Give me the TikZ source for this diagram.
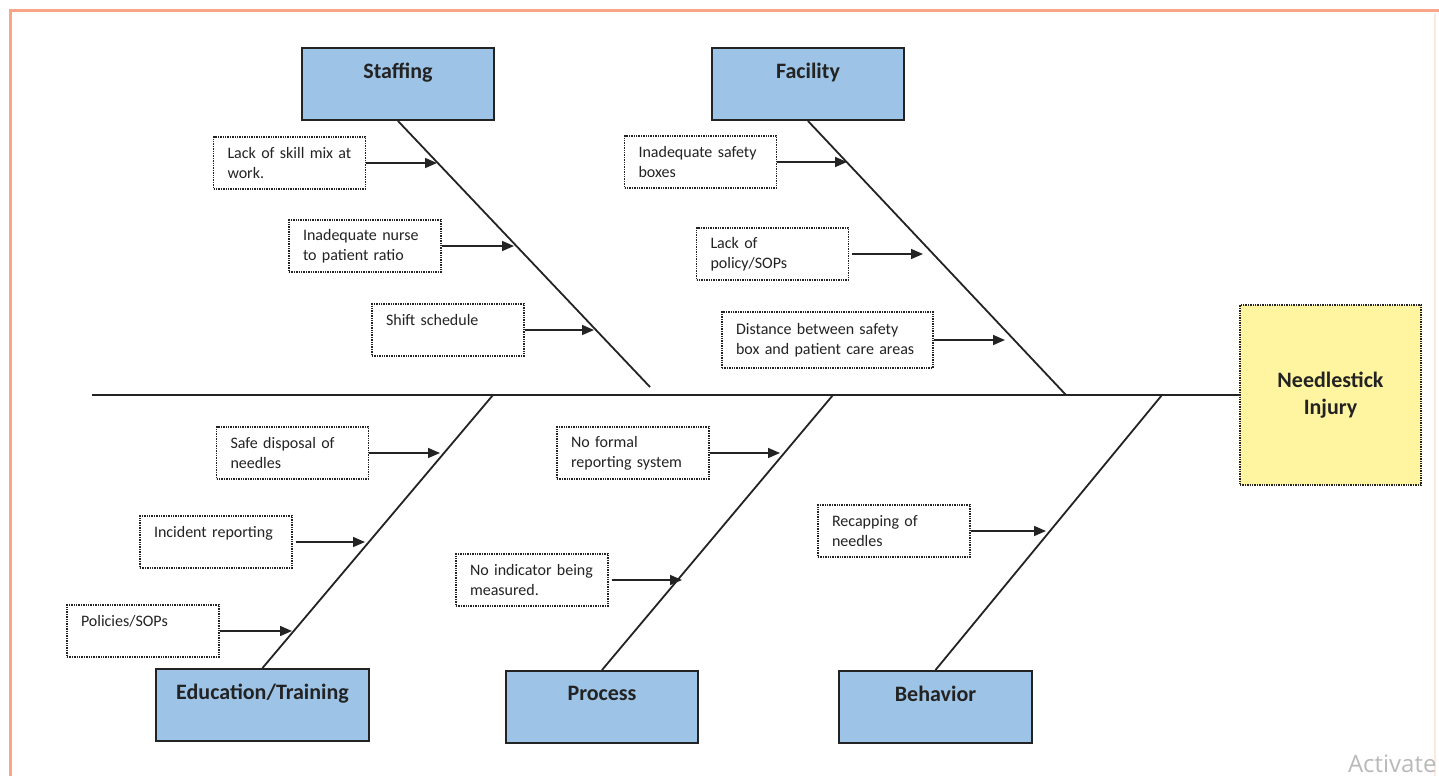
\documentclass[tikz,border=0pt]{standalone}
\usepackage{fontspec}
\setmainfont{Carlito}
\newfontfamily\wmfont{Open Sans}
\usetikzlibrary{arrows.meta}

\definecolor{catblue}{RGB}{157,195,230}
\definecolor{effyellow}{RGB}{255,245,160}
\definecolor{framered}{RGB}{250,165,135}
\definecolor{inkgray}{RGB}{35,35,35}

\begin{document}
\begin{tikzpicture}[x=1pt,y=-1pt,
    category/.style={draw=inkgray, line width=2pt, fill=catblue, text=inkgray,
      minimum width=192pt, minimum height=72pt, inner sep=0pt, align=center,
      font=\fontsize{22}{27}\selectfont\bfseries},
    cause/.style={draw=inkgray, densely dotted, line width=1.4pt, fill=white, text=inkgray,
      text width=124pt, inner xsep=14pt, inner ysep=0pt, minimum height=52pt,
      align=left, font=\fontsize{16}{20}\selectfont},
    bone/.style={draw=inkgray, line width=1.8pt},
    push/.style={draw=inkgray, line width=1.6pt, -{Triangle[length=12pt,width=10pt]}}]
      \useasboundingbox (0,0) rectangle (1439,776);
      % frame of the screenshot
      \draw[framered, line width=3pt] (10,776) -- (10,11) -- (1439,11);
      \draw[framered!25, line width=2pt] (1435,13) -- (1435,776);

      % effect and spine
      \node[draw=inkgray, densely dotted, line width=1.4pt, fill=effyellow, text=inkgray,
        minimum width=181pt, minimum height=180pt, align=center,
        font=\fontsize{22}{27}\selectfont\bfseries] (needle) at (1330.5,395) {Needlestick\\Injury};
      \coordinate (tail) at (92,395);
      \draw[inkgray, line width=2.2pt] (tail) -- (needle.west);

      % categories
      \node[category] (staffing) at (398,84) {Staffing\\~};
      \node[category] (facility) at (808,84) {Facility\\~};
      \node[category, minimum width=213pt] (education) at (262.5,705) {Education/Training\\~};
      \node[category] (process) at (602,707) {Process\\~};
      \node[category, minimum width=193pt] (behavior) at (935.5,707) {Behavior\\~};

      % bones
      \coordinate (staffing end) at (650,387);
      \coordinate (facility end) at (1066,395);
      \coordinate (education end) at (493,395);
      \coordinate (process end) at (833,395);
      \coordinate (behavior end) at (1162,395);
      \foreach \b in {staffing,facility} {
        \draw[bone] (\b.south) -- (\b\space end);
      }
      \foreach \b in {education,process,behavior} {
        \draw[bone] (\b.north) -- (\b\space end);
      }

      % causes
      \node[cause] (skill) at (289.5,163) {Lack of skill mix at\\work.};
      \node[cause] (ratio) at (365,246) {Inadequate nurse\\to patient ratio};
      \node[cause] (shift) at (448,330) {Shift schedule\\~};
      \node[cause] (boxes) at (700.5,162) {Inadequate safety\\boxes};
      \node[cause] (policy) at (772.5,254) {Lack of\\policy/SOPs};
      \node[cause, text width=183pt, minimum height=56pt] (distance) at (827.5,340)
        {Distance between safety\\box and patient care areas};
      \node[cause] (disposal) at (292.5,453) {Safe disposal of\\needles};
      \node[cause] (incident) at (216,542) {Incident reporting\\~};
      \node[cause] (sops) at (143,631) {Policies/SOPs\\~};
      \node[cause] (formal) at (633,453) {No formal\\reporting system};
      \node[cause] (indicator) at (532,580) {No indicator being\\measured.};
      \node[cause] (recap) at (894,531) {Recapping of\\needles};

      % tips on the bones
      \coordinate (skill tip) at (437,0);
      \coordinate (ratio tip) at (514,0);
      \coordinate (shift tip) at (594,0);
      \coordinate (boxes tip) at (847,0);
      \coordinate (policy tip) at (923,0);
      \coordinate (distance tip) at (1005,0);
      \coordinate (disposal tip) at (440,0);
      \coordinate (incident tip) at (365,0);
      \coordinate (sops tip) at (292,0);
      \coordinate (formal tip) at (780,0);
      \coordinate (indicator tip) at (682,0);
      \coordinate (recap tip) at (1046,0);
      \foreach \c in {skill,ratio,shift,boxes,distance,disposal,sops,formal,recap} {
        \draw[push] (\c.east) -- (\c.east -| \c\space tip);
      }
      \foreach \c in {policy,incident,indicator} {
        \draw[push] ([xshift=3pt]\c.east) -- (\c.east -| \c\space tip);
      }

      % screen watermark
      \node[anchor=east, text=gray!55, font=\wmfont\fontsize{24}{28}\selectfont] (mark) at (1440,764) {Activate};
    \end{tikzpicture}
\end{document}
